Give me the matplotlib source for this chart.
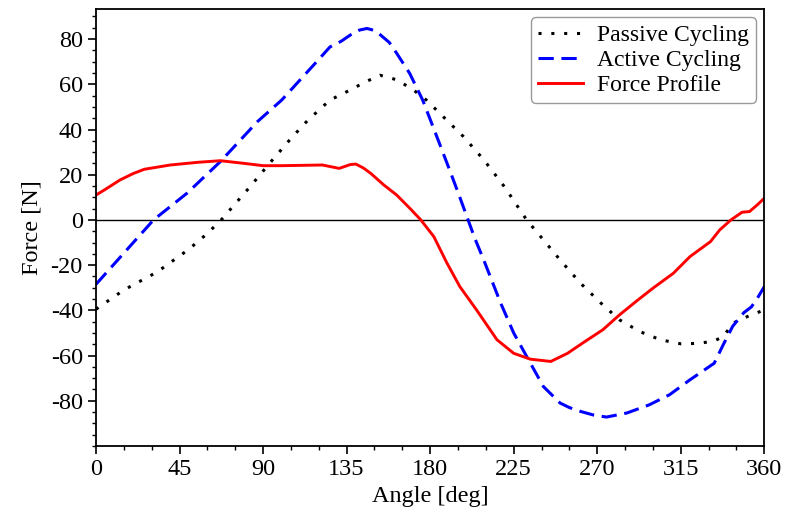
import matplotlib
matplotlib.use("Agg")
import matplotlib.pyplot as plt
from matplotlib.ticker import MultipleLocator

plt.rcParams['font.family'] = ['Liberation Serif', 'DejaVu Serif']
plt.rcParams['axes.unicode_minus'] = False

# passive cycling (black dotted)
passive_angle = [0, 15, 33, 50, 60, 68, 83, 95, 105, 114, 126, 137, 145, 153, 162, 171,
                 178, 187, 198, 209, 220, 232, 241, 250, 261, 272, 282, 293, 304, 315,
                 325, 333, 338, 343, 351, 360]
passive_force = [-39.5, -31, -23, -13, -6, 0.5, 14.7, 26.5, 36, 44, 53, 57.5, 61, 64, 62, 57.5,
                 53, 45.7, 36.8, 26.5, 14.7, 0, -8.8, -17.7, -28, -36.8, -44.2, -49.4, -53, -54.8,
                 -54.6, -53.5, -51.6, -45.7, -42.7, -39.8]

# active cycling (blue dashed)
active_angle = [0, 15, 31, 49, 67, 87, 100, 110, 120, 126, 132, 137, 142, 146, 150, 153, 158,
                162, 169, 176, 184, 191, 196, 200, 204, 209, 218, 225, 232, 241, 250, 255, 261,
                268, 275, 286, 298, 309, 320, 333, 338, 343, 349, 353, 356, 360]
active_force = [-28.5, -14.7, 0, 11.8, 25.8, 43.5, 53, 62, 71, 76.5, 79, 81.8, 84, 84.7, 83.8,
                82, 78.5, 73.7, 64.8, 53, 36, 21, 10, 1, -8, -18, -36.8, -50, -60.4, -73.7, -81,
                -83, -84.7, -86.3, -87.2, -85.4, -81.8, -77.3, -70.7, -63.4, -55, -47, -41,
                -38.5, -35, -29.5]

# force profile (red solid)
profile_angle = [0, 5, 13, 20, 26, 40, 55, 67, 80, 90, 100, 122, 131, 137, 140, 144,
                 148, 155, 162, 169, 175, 182, 189, 196, 205, 216, 225, 234, 245, 254,
                 263, 273, 282, 291, 300, 311, 320, 331, 336, 342, 348, 352, 356, 360]
profile_force = [11, 13.5, 17.7, 20.5, 22.4, 24.3, 25.5, 26.2, 25, 24, 24, 24.3, 22.8, 24.5, 24.7, 23,
                 20.6, 15.5, 11, 5.2, 0, -7.4, -19, -29.5, -39.8, -53, -59, -61.6, -62.6, -59,
                 -54, -48.6, -42, -36, -30.2, -23.6, -16.2, -9.6, -4.4, 0, 3.4, 3.7, 6.5, 9.6]

fig = plt.figure(figsize=(7.86, 5.18), dpi=100)
ax = fig.add_axes([0.1221, 0.139, 0.8503, 0.8436])

ax.axhline(0, color="black", lw=1.0, zorder=1)
ax.plot(passive_angle, passive_force, color="black", lw=2.2, linestyle=(0, (1, 3.2)),
        label="Passive Cycling")
ax.plot(active_angle, active_force, color="blue", lw=2.2, linestyle=(0, (5, 2.5)),
        label="Active Cycling")
ax.plot(profile_angle, profile_force, color="red", lw=2.1, label="Force Profile")

ax.set_xlim(0, 360)
ax.set_ylim(-100, 93.3)
ax.set_xticks([0, 45, 90, 135, 180, 225, 270, 315, 360])
ax.set_yticks([-80, -60, -40, -20, 0, 20, 40, 60, 80])
ax.xaxis.set_minor_locator(MultipleLocator(15))
ax.yaxis.set_minor_locator(MultipleLocator(5))
ax.tick_params(which="both", direction="out", top=False, right=False, labelsize=17.5)
ax.tick_params(which="major", length=6, width=1.2)
ax.tick_params(which="minor", length=3, width=1.0)
for s in ax.spines.values():
    s.set_linewidth(1.3)

ax.set_xlabel("Angle [deg]", fontsize=17.5)
ax.set_ylabel("Force [N]", fontsize=17.5, labelpad=6)

leg = ax.legend(loc="upper right", fontsize=17, frameon=True, fancybox=True,
                handlelength=1.9, labelspacing=0.15, borderpad=0.3, handletextpad=0.6,
                borderaxespad=0.35)
leg.get_frame().set_edgecolor("gray")
leg.get_frame().set_linewidth(1.0)

fig.savefig("out.png", dpi=100)
